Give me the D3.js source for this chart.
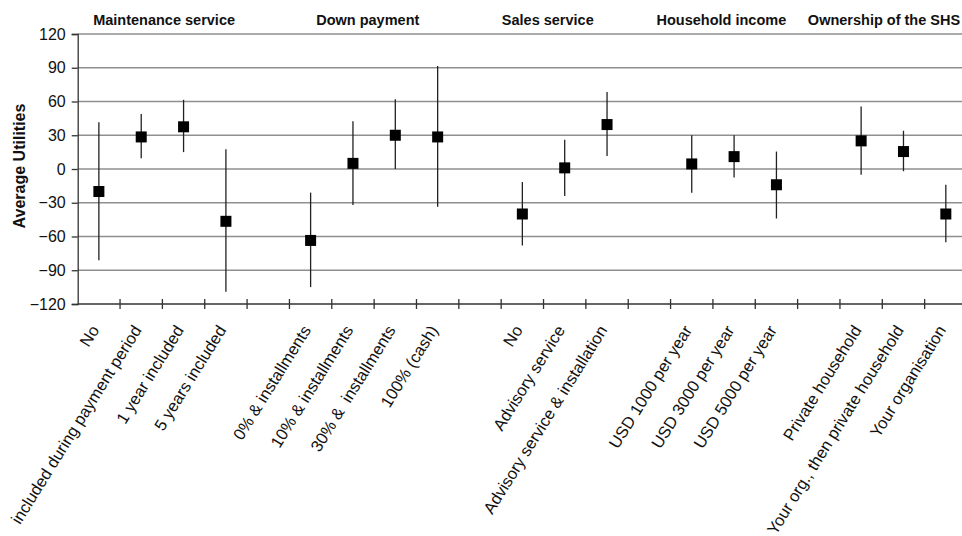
<!DOCTYPE html>
<html><head><meta charset="utf-8">
<script src="https://cdn.jsdelivr.net/npm/d3@7"></script>
<style>body{margin:0;background:#fff}svg{display:block;font-family:Arial,"Liberation Sans",sans-serif}</style>
</head><body><svg id="c" width="962" height="536"></svg>
<script>
// slots: "" entries are empty gap slots between groups
const categories = ["No","included during payment period","1 year included","5 years included","",
  "0% & installments","10% & installments","30% &\u00a0 installments","100% (cash)","",
  "No","Advisory service","Advisory service & installation","",
  "USD 1000 per year","USD 3000 per year","USD 5000 per year","",
  "Private household","Your org., then private household","Your organisation"];
const groups = ["Maintenance service","Down payment","Sales service","Household income","Ownership of the SHS"];
const means = [-20,28.5,37.5,-46.5,null,-63.5,5,30,28.5,null,-40,1,39.5,null,4.5,11,-14,null,25,15.5,-40];
const upper = [41.5,49,61.5,17.5,null,-21,42.5,62,91.5,null,-11.5,26,68.5,null,30,30,15.5,null,55.5,34,-14];
const lower = [-81,9.5,15,-109,null,-105,-32,0,-33.5,null,-68,-24,11.5,null,-21,-7.5,-44,null,-5,-2,-65];
const yTicks = [-120,-90,-60,-30,0,30,60,90,120];

const svg = d3.select("#c");
const mLeft = 77.7, mRight = 967, mTop = 34, mBottom = 304;
const x = d3.scaleBand().domain(d3.range(categories.length)).range([mLeft,mRight]).padding(0);
const slot = d3.scaleLinear().domain([0,categories.length]).range([mLeft,mRight]);
const y = d3.scaleLinear().domain([-120,120]).range([mBottom,mTop]);

// gridlines
svg.append("g").selectAll("line").data(yTicks.filter(d=>d>-120)).join("line")
  .attr("x1",mLeft).attr("x2",962).attr("y1",d=>y(d)).attr("y2",d=>y(d))
  .attr("stroke","#8f8f8f").attr("stroke-width",1.4);

// y axis
const ya = svg.append("g").attr("transform",`translate(${mLeft},0)`)
  .call(d3.axisLeft(y).tickValues(yTicks).tickSize(6).tickPadding(6));
ya.select(".domain").attr("stroke","#333").attr("stroke-width",1.3);
ya.selectAll(".tick line").attr("stroke","#333").attr("stroke-width",1.3);
ya.selectAll("text").attr("font-size",16).attr("fill","#111").attr("font-family","Arial,'Liberation Sans',sans-serif");

// x axis line + ticks at slot boundaries
svg.append("line").attr("x1",mLeft).attr("x2",962).attr("y1",mBottom).attr("y2",mBottom)
  .attr("stroke","#333").attr("stroke-width",1.3);
svg.append("g").selectAll("line").data(d3.range(1,categories.length+1)).join("line")
  .attr("x1",d=>slot(d)).attr("x2",d=>slot(d))
  .attr("y1",mBottom-5).attr("y2",mBottom+5).attr("stroke","#333").attr("stroke-width",1.3);

// x labels
svg.append("g").selectAll("text").data(categories.map((c,i)=>({c,i})).filter(d=>d.c!=="")).join("text")
  .attr("transform",d=>`translate(${x(d.i)+x.bandwidth()/2-4},${mBottom+23}) rotate(-58)`)
  .attr("text-anchor","end").attr("dy","0.35em").attr("font-size",16.5).attr("fill","#111")
  .text(d=>d.c);

// group headers (centres in slot units, as placed in the original)
const headerSlot = [2.04, 6.85, 11.1, 15.2, 19.04];
svg.append("g").selectAll("text").data(groups).join("text")
  .attr("x",(d,i)=>slot(headerSlot[i])).attr("y",25).attr("text-anchor","middle")
  .attr("font-size",14.5).attr("font-weight","bold").attr("fill","#111").text(d=>d);

// error bars
const pts = means.map((m,i)=>({m,u:upper[i],l:lower[i],i})).filter(d=>d.m!==null);
svg.append("g").selectAll("line").data(pts).join("line")
  .attr("x1",d=>x(d.i)+x.bandwidth()/2).attr("x2",d=>x(d.i)+x.bandwidth()/2)
  .attr("y1",d=>y(d.u)).attr("y2",d=>y(d.l)).attr("stroke","#222").attr("stroke-width",1.3);
const s=11;
svg.append("g").selectAll("rect").data(pts).join("rect")
  .attr("x",d=>x(d.i)+x.bandwidth()/2-s/2).attr("y",d=>y(d.m)-s/2)
  .attr("width",s).attr("height",s).attr("fill","#000");

// y title
svg.append("text").attr("transform",`translate(25,166) rotate(-90)`)
  .attr("text-anchor","middle").attr("font-size",16).attr("font-weight","bold").attr("fill","#111")
  .text("Average Utilities");
</script></body></html>
